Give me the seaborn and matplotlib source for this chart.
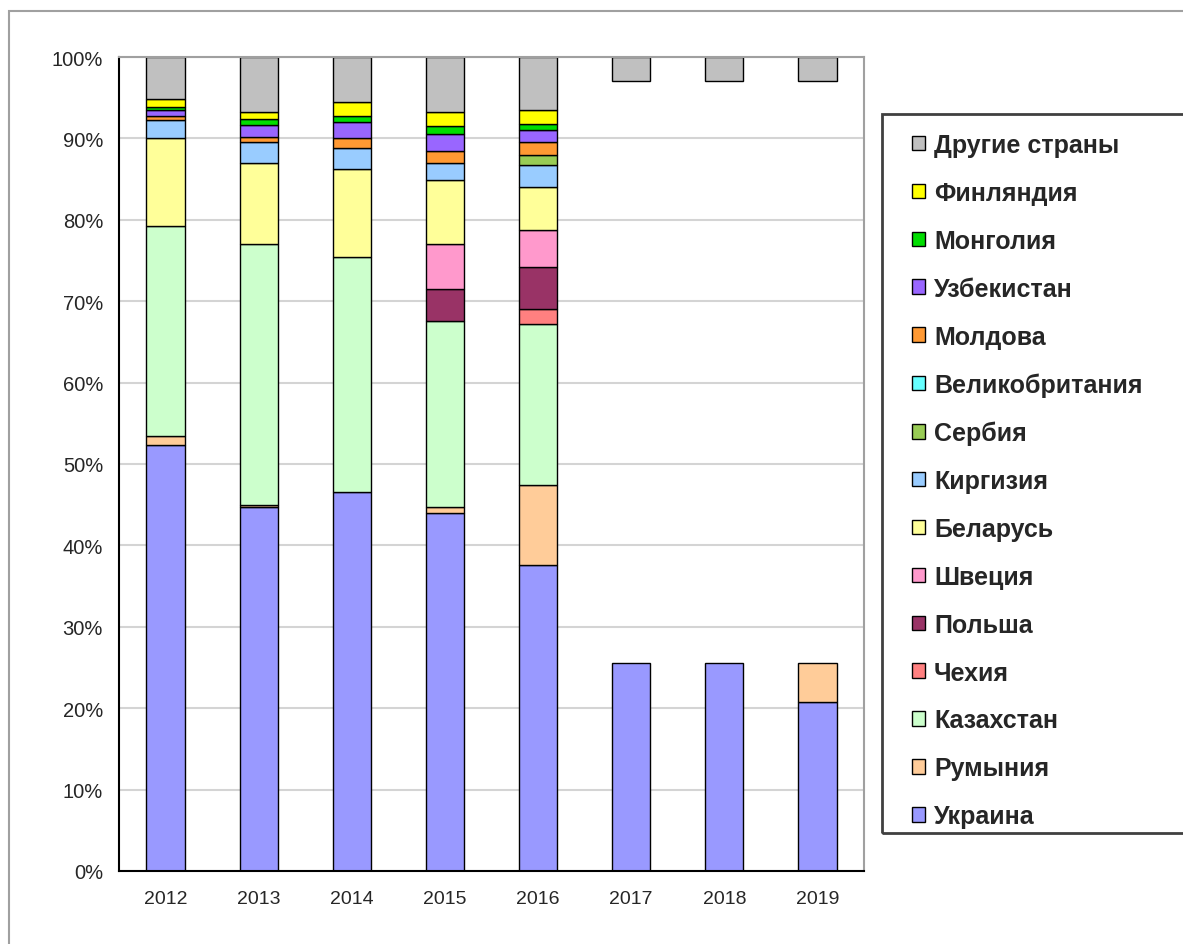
import numpy as np
import pandas as pd
import matplotlib
matplotlib.use("Agg")
import matplotlib.pyplot as plt
import seaborn as sns
from matplotlib.patches import Rectangle, Patch

years = ["2012", "2013", "2014", "2015", "2016", "2017", "2018", "2019"]

# shares in %, bottom to top of each bar
ukraine    = [52.3, 44.7, 46.5, 44.0, 37.6, 25.5, 25.5, 20.8]
romania    = [1.1, 0.3, 0.0, 0.7, 9.8, 0.0, 0.0, 4.7]
kazakhstan = [25.8, 32.0, 28.9, 22.9, 19.8, 0.0, 0.0, 0.0]
czech      = [0.0, 0.0, 0.0, 0.0, 1.9, 0.0, 0.0, 0.0]
poland     = [0.0, 0.0, 0.0, 3.9, 5.1, 0.0, 0.0, 0.0]
sweden     = [0.0, 0.0, 0.0, 5.5, 4.5, 0.0, 0.0, 0.0]
belarus    = [10.9, 10.0, 10.8, 7.9, 5.3, 0.0, 0.0, 0.0]
kyrgyzstan = [2.1, 2.6, 2.6, 2.1, 2.7, 0.0, 0.0, 0.0]
serbia     = [0.0, 0.0, 0.0, 0.0, 1.2, 0.0, 0.0, 0.0]
uk         = [0.0, 0.0, 0.0, 0.0, 0.0, 0.0, 0.0, 0.0]
moldova    = [0.6, 0.6, 1.3, 1.5, 1.7, 0.0, 0.0, 0.0]
uzbekistan = [0.7, 1.5, 1.9, 2.1, 1.4, 0.0, 0.0, 0.0]
mongolia   = [0.4, 0.7, 0.7, 0.9, 0.8, 0.0, 0.0, 0.0]
finland    = [1.0, 0.9, 1.8, 1.7, 1.7, 0.0, 0.0, 0.0]
others     = [5.1, 6.7, 5.5, 6.7, 6.5, 3.0, 3.0, 3.0]

series = [
    ("Украина", ukraine, "#9999FF"),
    ("Румыния", romania, "#FFCC99"),
    ("Казахстан", kazakhstan, "#CCFFCC"),
    ("Чехия", czech, "#FF8080"),
    ("Польша", poland, "#993366"),
    ("Швеция", sweden, "#FF99CC"),
    ("Беларусь", belarus, "#FFFF99"),
    ("Киргизия", kyrgyzstan, "#99CCFF"),
    ("Сербия", serbia, "#99CC55"),
    ("Великобритания", uk, "#66FFFF"),
    ("Молдова", moldova, "#FF9933"),
    ("Узбекистан", uzbekistan, "#9966FF"),
    ("Монголия", mongolia, "#00DD00"),
    ("Финляндия", finland, "#FFFF00"),
    ("Другие страны", others, "#C0C0C0"),
]

sns.set_style("white")
plt.rcParams['font.family'] = ['Liberation Sans', 'DejaVu Sans']

fig = plt.figure(figsize=(11.83, 9.45), dpi=100)
ax = fig.add_axes([119 / 1183, 1 - 872 / 945, 745 / 1183, 814 / 945])

bottom = np.zeros(len(years))
for name, vals, col in series:
    vals = np.array(vals)
    if name == "Другие страны":
        # top segment is pinned to 100%
        b = 100 - vals
    else:
        b = bottom.copy()
    mask = vals > 0
    if mask.any():
        sns.barplot(x=np.array(years)[mask], y=vals[mask], bottom=b[mask],
                    order=years, color=col, edgecolor="black", linewidth=1,
                    width=0.41, saturation=1, ax=ax)
    bottom = bottom + vals

ax.set_xlim(-0.5, len(years) - 0.5)
ax.set_ylim(0, 100)
ax.set_yticks(np.arange(0, 101, 10))
ax.set_yticklabels([f"{v}%" for v in range(0, 101, 10)], fontsize=14.5)
ax.set_xticks(range(len(years)))
ax.set_xticklabels(years, fontsize=14)
ax.set_xlabel("")
ax.set_ylabel("")
ax.set_xticks(np.arange(-0.5, len(years), 1), minor=True)
ax.tick_params(axis="x", which="major", length=0, pad=14)
ax.tick_params(axis="x", which="minor", length=5, width=1.2, direction="out", color="black")
ax.tick_params(axis="y", length=5, width=1.2, direction="out", color="black", pad=6.5)
ax.yaxis.grid(True, color="#D4D4D4", linewidth=1.5)
ax.set_axisbelow(True)

for side in ["left", "bottom"]:
    ax.spines[side].set_color("black")
    ax.spines[side].set_linewidth(1.5)
for side in ["top", "right"]:
    ax.spines[side].set_color("#A0A0A0")
    ax.spines[side].set_linewidth(1.5)

# legend, reversed order like the stack
handles = [Patch(facecolor=col, edgecolor="black", linewidth=1, label=name)
           for name, vals, col in reversed(series)]
leg = fig.legend(handles=handles, loc="upper left",
                 bbox_to_anchor=(912 / 1183, 1 - 134 / 945),
                 bbox_transform=fig.transFigure, frameon=False,
                 prop={"weight": "bold", "size": 18}, handlelength=0.52,
                 handleheight=0.52, handletextpad=0.36, labelspacing=0.955,
                 borderpad=0, borderaxespad=0)

# legend frame (runs past the right edge)
fig.patches.append(Rectangle((882 / 1183, 1 - 834 / 945), 0.3, (834 - 115) / 945,
                             transform=fig.transFigure, fill=False,
                             edgecolor="#404040", linewidth=2))

# outer chart border
fig.patches.append(Rectangle((9 / 1183, -0.05), 1.1, 1 - 12 / 945 + 0.05,
                             transform=fig.transFigure, fill=False,
                             edgecolor="#A0A0A0", linewidth=1.5))

fig.savefig("out.png", dpi=100)
